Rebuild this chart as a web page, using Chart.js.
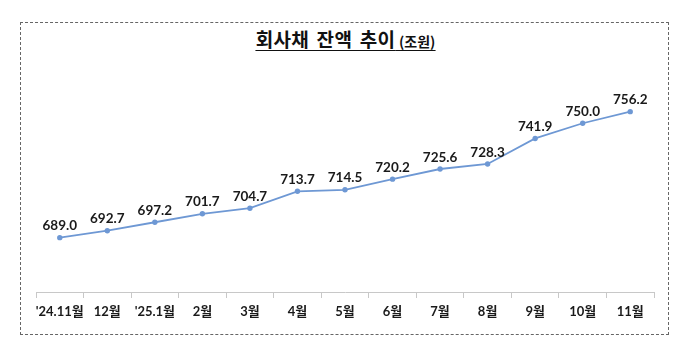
<!DOCTYPE html>
<html>
<head>
<meta charset="utf-8">
<script src="https://cdn.jsdelivr.net/npm/chart.js@4/dist/chart.umd.min.js"></script>
<style>
  html, body { margin: 0; padding: 0; background: #fff; }
  #wrap { position: relative; width: 691px; height: 363px; }
  #box {
    position: absolute; left: 20px; top: 22px; width: 647px; height: 311px;
    border: 1px dashed #666;
  }
  #title {
    position: absolute; left: 0; width: 691px; top: 26px; text-align: center;
    font-family: 'Noto Sans CJK KR', sans-serif; font-weight: bold; color: #111;
    line-height: 26px;
  }
  #title span { text-decoration: underline; text-underline-offset: 3px; }
  #title .main { font-size: 19px; letter-spacing: 0.3px; word-spacing: 3px; }
  #title .unit { font-size: 14px; }
  canvas { position: absolute; left: 0; top: 0; }
</style>
</head>
<body>
<div id="wrap">
  <div id="box"></div>
  <div id="title"><span><span class="main">회사채 잔액 추이</span> <span class="unit">(조원)</span></span></div>
  <canvas id="chart" width="691" height="363"></canvas>
</div>
<script>
const months = ["'24.11월", '12월', "'25.1월", '2월', '3월', '4월', '5월', '6월', '7월', '8월', '9월', '10월', '11월'];
const balance = [689.0, 692.7, 697.2, 701.7, 704.7, 713.7, 714.5, 720.2, 725.6, 728.3, 741.9, 750.0, 756.2];

const lineColor = '#6e98d4';
const fontFamily = "Lato, 'Noto Sans CJK KR', sans-serif";

// value labels above each point
const valueLabels = {
  id: 'valueLabels',
  afterDatasetsDraw(chart) {
    const ctx = chart.ctx;
    const meta = chart.getDatasetMeta(0);
    ctx.save();
    ctx.font = 'bold 13.5px ' + fontFamily;
    ctx.fillStyle = '#1a1a1a';
    ctx.textAlign = 'center';
    ctx.textBaseline = 'bottom';
    meta.data.forEach((pt, i) => {
      ctx.fillText(balance[i].toFixed(1), pt.x, pt.y - 5);
    });
    ctx.restore();
  }
};

const ctx = document.getElementById('chart').getContext('2d');
new Chart(ctx, {
  type: 'line',
  data: {
    labels: months,
    datasets: [{
      data: balance,
      borderColor: lineColor,
      backgroundColor: lineColor,
      borderWidth: 1.8,
      pointRadius: 1.8,
      pointHoverRadius: 1.8,
      tension: 0
    }]
  },
  options: {
    responsive: false,
    animation: false,
    events: [],
    layout: { padding: { left: 36, right: 37, top: 67, bottom: 0 } },
    plugins: { legend: { display: false }, tooltip: { enabled: false } },
    scales: {
      x: {
        offset: true,
        grid: { offset: true, drawOnChartArea: false, tickLength: 6, color: '#c8c8c8' },
        border: { color: '#c8c8c8', width: 1 },
        ticks: {
          padding: 6,
          maxRotation: 0,
          autoSkip: false,
          color: '#1a1a1a',
          font: { family: fontFamily, size: 13, weight: 'bold' }
        },
        afterFit(scale) { scale.height = 71; }
      },
      y: {
        display: false,
        min: 660,
        max: 780
      }
    }
  },
  plugins: [valueLabels]
});
</script>
</body>
</html>
